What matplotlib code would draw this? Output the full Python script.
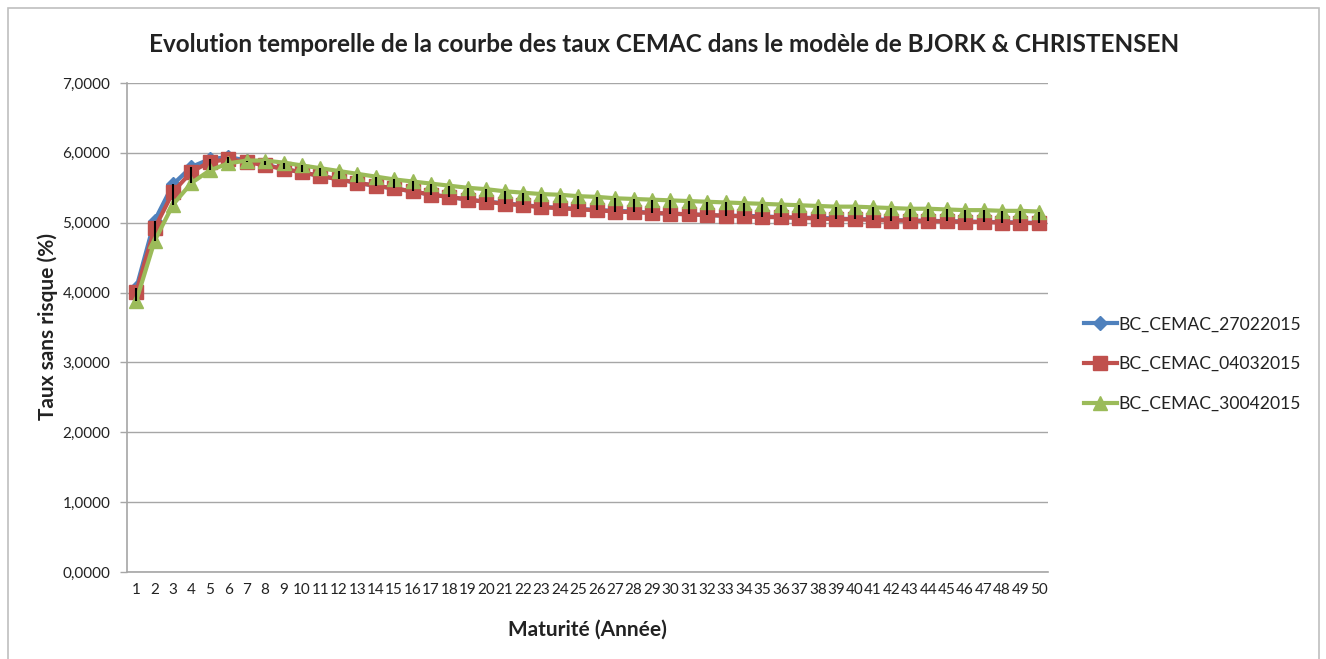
import numpy as np
import matplotlib
matplotlib.use("Agg")
import matplotlib.pyplot as plt
from matplotlib.ticker import FuncFormatter
from matplotlib.patches import Rectangle

plt.rcParams['font.family'] = ['Lato', 'DejaVu Sans']

# Maturités (années)
maturites = list(range(1, 51))

# Courbes Bjork & Christensen
bc_27022015 = [4.06, 5.03, 5.55, 5.80, 5.91, 5.94, 5.89, 5.83, 5.77, 5.72,
               5.67, 5.62, 5.57, 5.53, 5.49, 5.45, 5.40, 5.37, 5.33, 5.30,
               5.28, 5.25, 5.23, 5.21, 5.20, 5.18, 5.17, 5.16, 5.14, 5.13,
               5.12, 5.11, 5.10, 5.10, 5.09, 5.08, 5.07, 5.07, 5.06, 5.05,
               5.05, 5.04, 5.03, 5.03, 5.02, 5.02, 5.01, 5.01, 5.00, 5.00]
bc_04032015 = [4.01, 4.92, 5.44, 5.73, 5.87, 5.91, 5.87, 5.82, 5.77, 5.72,
               5.67, 5.62, 5.57, 5.53, 5.49, 5.45, 5.40, 5.37, 5.33, 5.30,
               5.27, 5.25, 5.22, 5.21, 5.19, 5.18, 5.16, 5.15, 5.14, 5.13,
               5.12, 5.11, 5.10, 5.09, 5.08, 5.08, 5.07, 5.06, 5.05, 5.05,
               5.04, 5.03, 5.03, 5.02, 5.02, 5.01, 5.01, 5.00, 5.00, 4.99]
bc_30042015 = [3.88, 4.74, 5.26, 5.57, 5.75, 5.85, 5.89, 5.89, 5.86, 5.82,
               5.78, 5.74, 5.70, 5.66, 5.62, 5.59, 5.56, 5.53, 5.50, 5.48,
               5.45, 5.43, 5.41, 5.40, 5.38, 5.37, 5.35, 5.34, 5.33, 5.32,
               5.31, 5.30, 5.29, 5.28, 5.27, 5.26, 5.25, 5.24, 5.23, 5.23,
               5.22, 5.21, 5.20, 5.20, 5.19, 5.18, 5.18, 5.17, 5.17, 5.16]

noms = ["BC_CEMAC_27022015", "BC_CEMAC_04032015", "BC_CEMAC_30042015"]
couleurs = ["#4F81BD", "#C0504D", "#9BBB59"]
marqueurs = ["D", "s", "^"]
tailles = [7, 10, 10]

fig = plt.figure(figsize=(13.26, 6.59), dpi=100)
ax = fig.add_axes([127 / 1326, 87 / 659, 921 / 1326, 489 / 659])

# cadre du graphique
fig.patches.append(Rectangle((8 / 1326, -0.1), 1311 / 1326, 1.1 - 8 / 659,
                             transform=fig.transFigure, fill=False,
                             edgecolor="#BFBFBF", linewidth=1.2))

series = [bc_27022015, bc_04032015, bc_30042015]
for s, nom, c, m, t in zip(series, noms, couleurs, marqueurs, tailles):
    ax.plot(maturites, s, color=c, marker=m, markersize=t, linewidth=3,
            label=nom, zorder=3)

# lignes haut-bas (Excel)
tab = np.array(series)
ax.vlines(maturites, tab.min(axis=0), tab.max(axis=0), color="black",
          linewidth=1.5, zorder=5)

ax.set_xlim(0.5, 50.5)
ax.set_ylim(0, 7)
ax.set_yticks(np.arange(0, 8, 1))
ax.yaxis.set_major_formatter(FuncFormatter(lambda v, p: f"{v:.4f}".replace(".", ",")))
ax.set_xticks(maturites)
ax.set_xticklabels([str(m) for m in maturites])
ax.tick_params(axis="x", length=0, labelsize=11, pad=8, colors="#222222")
ax.tick_params(axis="y", length=5, width=1, colors="#A6A6A6", labelsize=11,
               pad=7, labelcolor="#222222")

ax.grid(axis="y", color="#A6A6A6", linewidth=1)
ax.set_axisbelow(True)
for cote in ["top", "right"]:
    ax.spines[cote].set_visible(False)
for cote in ["left", "bottom"]:
    ax.spines[cote].set_color("#A6A6A6")
    ax.spines[cote].set_linewidth(1.2)

fig.text(664 / 1326, 1 - 45 / 659,
         "Evolution temporelle de la courbe des taux CEMAC dans le modèle de BJORK & CHRISTENSEN",
         ha="center", va="center", fontsize=17.5, fontweight="bold", color="#222222")
fig.text(48 / 1326, 1 - 327 / 659, "Taux sans risque (%)", rotation=90,
         ha="center", va="center", fontsize=15, fontweight="bold", color="#222222")
fig.text(587 / 1326, 1 - 630 / 659, "Maturité (Année)", ha="center",
         va="center", fontsize=15, fontweight="bold", color="#222222")

ax.legend(loc="center left", bbox_to_anchor=(1068 / 1326, 1 - 364 / 659),
          bbox_transform=fig.transFigure, frameon=False, fontsize=12.6,
          handlelength=1.9, handletextpad=0.1, labelspacing=1.35,
          labelcolor="#222222")

fig.savefig("out.png", dpi=100)
